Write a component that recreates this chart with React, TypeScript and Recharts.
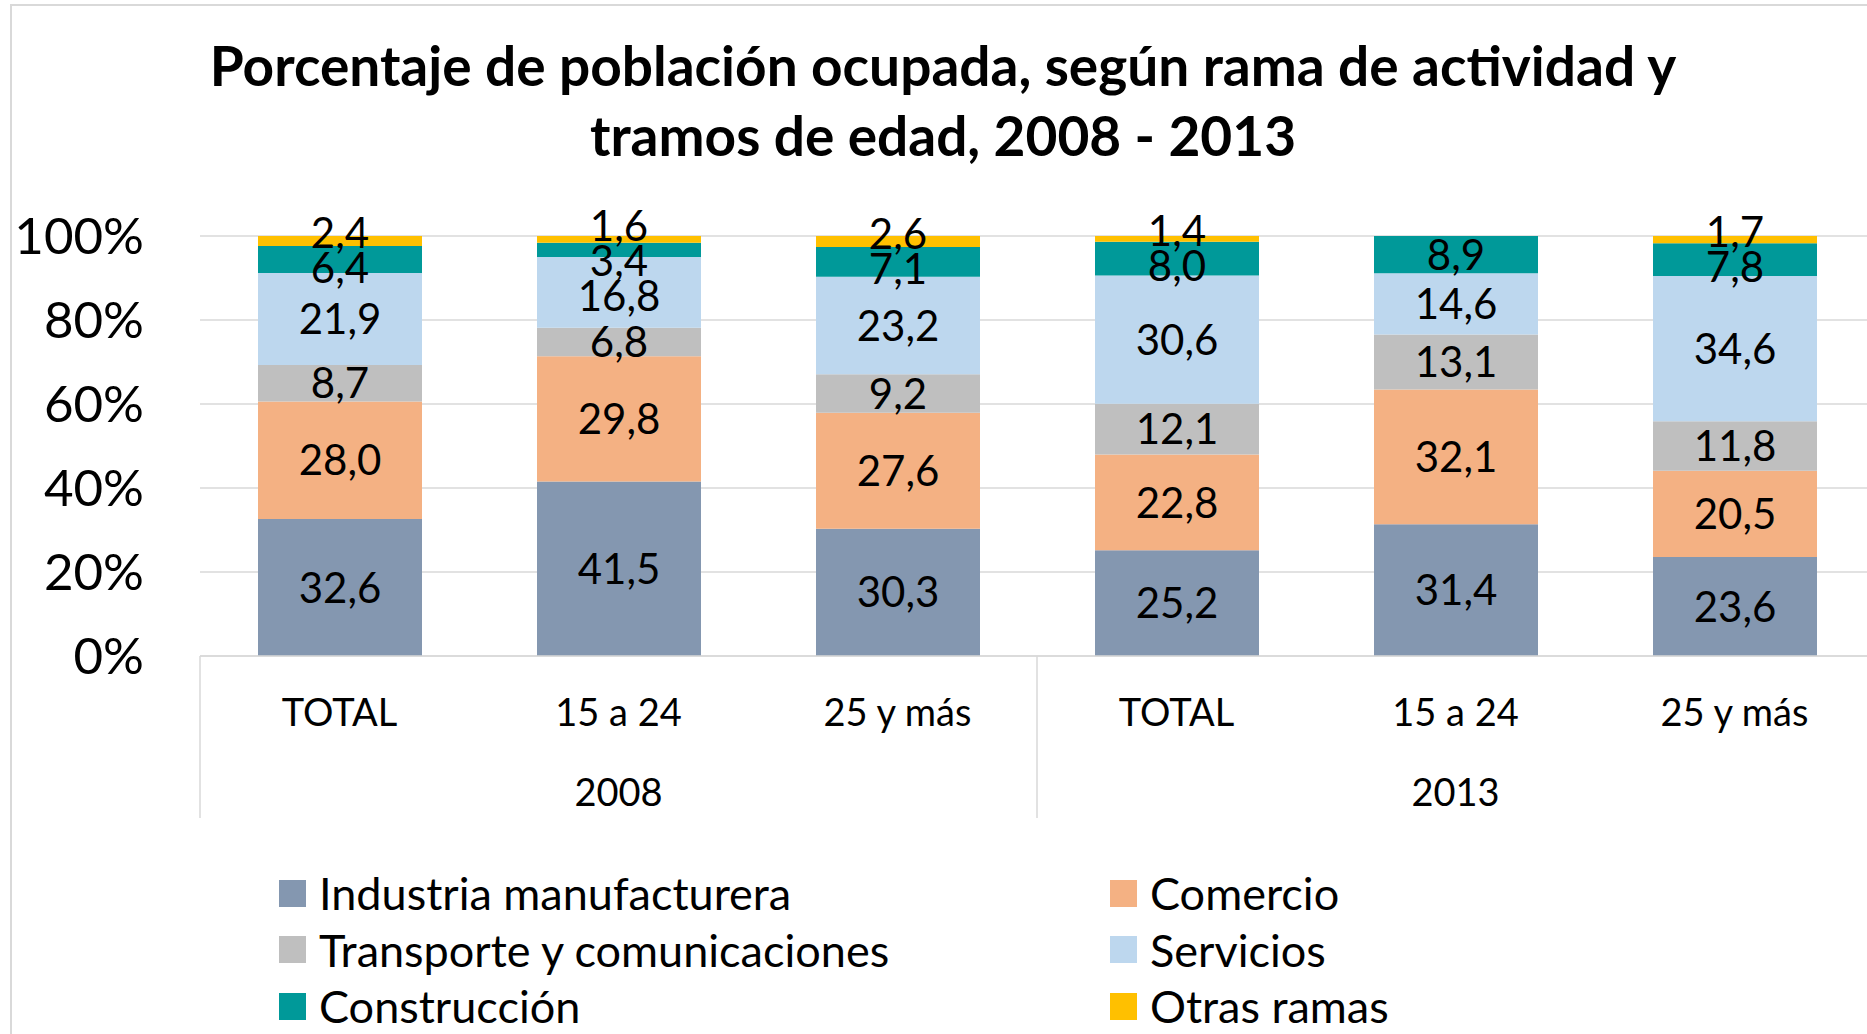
import { BarChart, Bar, XAxis, YAxis, CartesianGrid, LabelList } from 'recharts'

const CATEGORIES = ['TOTAL', '15 a 24', '25 y más', 'TOTAL', '15 a 24', '25 y más']
const YEARS = ['2008', '2008', '2008', '2013', '2013', '2013']
const INDUSTRIA = [32.6, 41.5, 30.3, 25.2, 31.4, 23.6]
const COMERCIO = [28.0, 29.8, 27.6, 22.8, 32.1, 20.5]
const TRANSPORTE = [8.7, 6.8, 9.2, 12.1, 13.1, 11.8]
const SERVICIOS = [21.9, 16.8, 23.2, 30.6, 14.6, 34.6]
const CONSTRUCCION = [6.4, 3.4, 7.1, 8.0, 8.9, 7.8]
const OTRAS = [2.4, 1.6, 2.6, 1.4, null, 1.7]
const Y_TICKS = [0, 0.2, 0.4, 0.6, 0.8, 1]

const SERIES = [
  { key: 'ind', name: 'Industria manufacturera', values: INDUSTRIA, color: '#8497b0' },
  { key: 'com', name: 'Comercio', values: COMERCIO, color: '#f4b183' },
  { key: 'tra', name: 'Transporte y comunicaciones', values: TRANSPORTE, color: '#bfbfbf' },
  { key: 'ser', name: 'Servicios', values: SERVICIOS, color: '#bdd7ee' },
  { key: 'con', name: 'Construcción', values: CONSTRUCCION, color: '#009999' },
  { key: 'otr', name: 'Otras ramas', values: OTRAS, color: '#ffc000' },
]
// legend is laid out in two columns like the original
const LEGEND_ORDER = [['ind', 'com'], ['tra', 'ser'], ['con', 'otr']]

const data = CATEGORIES.map((cat, i) => {
  const row: Record<string, any> = { cat, year: YEARS[i] }
  for (const s of SERIES) row[s.key] = s.values[i]
  return row
})

const FONT = 'Lato, "Open Sans", sans-serif'
const PLOT_LEFT = 200
const PLOT_RIGHT = 1874
const PLOT_TOP = 236
const PLOT_BOTTOM = 656
const CHART_W = 1900
const CHART_H = 1034
const BAND = (PLOT_RIGHT - PLOT_LEFT) / CATEGORIES.length
const LABEL_GAP = 35

const fmt = (v: number) => v.toFixed(1).replace('.', ',')

// centre labels in their segments, then push overlapping neighbours apart
function spreadLabels(vals: number[], total: number, plotH: number, bottom: number) {
  let cum = 0
  const centers = vals.map(v => {
    const c = bottom - ((cum + v / 2) / total) * plotH
    cum += v
    return c
  })
  for (let it = 0; it < 30; it++) {
    for (let k = vals.length - 1; k > 0; k--) {
      if (!vals[k] || !vals[k - 1]) continue
      const gap = centers[k - 1] - centers[k]
      if (gap < LABEL_GAP) {
        const d = (LABEL_GAP - gap) / 2
        centers[k] -= d
        centers[k - 1] += d
      }
    }
  }
  return centers
}

const makeLabel = (si: number) => (props: any) => {
  const { x, y, width, height } = props
  // null entries are skipped by the label list, so find the category from the bar position
  const index = Math.floor((x + width / 2 - PLOT_LEFT) / BAND)
  const vals = SERIES.map(s => s.values[index] ?? 0)
  const v = vals[si]
  if (!v) return null
  const h = Math.abs(height)
  const total = vals.reduce((a, b) => a + b, 0)
  const plotH = (h * total) / v
  const below = vals.slice(0, si).reduce((a, b) => a + b, 0)
  const bottom = y + h + (below / total) * plotH
  const centers = spreadLabels(vals, total, plotH, bottom)
  return (
    <text x={x + width / 2} y={centers[si]} dy="0.36em" textAnchor="middle" fontFamily={FONT} fontSize={42} fill="#000">
      {fmt(v)}
    </text>
  )
}

const YTick = ({ y, payload }: any) => (
  <text x={PLOT_LEFT - 56} y={y} dy="0.36em" textAnchor="end" fontFamily={FONT} fontSize={51} fill="#000">
    {Math.round(payload.value * 100)}%
  </text>
)

const CatTick = ({ x, payload }: any) => (
  <text x={x} y={PLOT_BOTTOM + 56} dy="0.36em" textAnchor="middle" fontFamily={FONT} fontSize={38} fill="#000">
    {payload.value}
  </text>
)

const YearTick = ({ x, index }: any) => {
  const year = YEARS[index]
  if (index > 0 && YEARS[index - 1] === year) return null
  const count = YEARS.filter(y => y === year).length
  const left = x - BAND / 2
  const isLast = YEARS.lastIndexOf(year) === YEARS.length - 1
  return (
    <g>
      <line x1={left} x2={left} y1={PLOT_BOTTOM} y2={PLOT_BOTTOM + 162} stroke="#d9d9d9" strokeWidth={1.5} />
      {isLast && (
        <line x1={left + count * BAND} x2={left + count * BAND} y1={PLOT_BOTTOM} y2={PLOT_BOTTOM + 162} stroke="#d9d9d9" strokeWidth={1.5} />
      )}
      <text x={left + (count * BAND) / 2} y={PLOT_BOTTOM + 136} dy="0.36em" textAnchor="middle" fontFamily={FONT} fontSize={38} fill="#000">
        {year}
      </text>
    </g>
  )
}

export default function App() {
  const byKey = Object.fromEntries(SERIES.map(s => [s.key, s]))
  return (
    <div style={{ position: 'fixed', left: 0, top: 0, width: 1867, height: 1034, overflow: 'hidden', background: '#fff' }}>
      <div style={{ position: 'absolute', left: 10, top: 4, width: 1900, height: 1100, borderLeft: '2px solid #d9d9d9', borderTop: '2px solid #d9d9d9' }} />
      <div style={{ position: 'absolute', left: 0, top: 30, width: 1886, textAlign: 'center', fontFamily: FONT, fontWeight: 700, fontSize: 55, lineHeight: '70px', color: '#000', whiteSpace: 'nowrap' }}>
        Porcentaje de población ocupada, según rama de actividad y<br />tramos de edad, 2008 - 2013
      </div>
      <div style={{ position: 'absolute', left: 0, top: 0 }}>
        <BarChart width={CHART_W} height={CHART_H} data={data} stackOffset="expand"
          margin={{ top: PLOT_TOP, right: CHART_W - PLOT_RIGHT, bottom: CHART_H - PLOT_BOTTOM - 160, left: 0 }}>
          <CartesianGrid vertical={false} stroke="#d9d9d9" strokeWidth={1.5} />
          <XAxis xAxisId="cat" dataKey="cat" height={80} tickLine={false} axisLine={{ stroke: '#d9d9d9', strokeWidth: 1.5 }} tick={<CatTick />} interval={0} />
          <XAxis xAxisId="year" dataKey="year" height={80} tickLine={false} axisLine={false} tick={<YearTick />} interval={0} />
          <YAxis type="number" domain={[0, 1]} ticks={Y_TICKS} width={PLOT_LEFT} tickLine={false} axisLine={false} tick={<YTick />} />
          {SERIES.map((s, i) => (
            <Bar key={s.key} xAxisId="cat" dataKey={s.key} name={s.name} stackId="a" fill={s.color} barSize={164} isAnimationActive={false}>
              <LabelList dataKey={s.key} content={makeLabel(i)} />
            </Bar>
          ))}
        </BarChart>
      </div>
      {LEGEND_ORDER.map((row, r) => row.map((k, c) => {
        const s = byKey[k]
        return (
          <div key={k} style={{ position: 'absolute', left: c === 0 ? 279 : 1110, top: 893 + r * 56.5 - 30, height: 60, display: 'flex', alignItems: 'center', fontFamily: FONT, fontSize: 45, color: '#000', whiteSpace: 'nowrap' }}>
            <span style={{ display: 'inline-block', width: 27, height: 27, background: s.color, marginRight: 13 }} />
            {s.name}
          </div>
        )
      }))}
    </div>
  )
}
